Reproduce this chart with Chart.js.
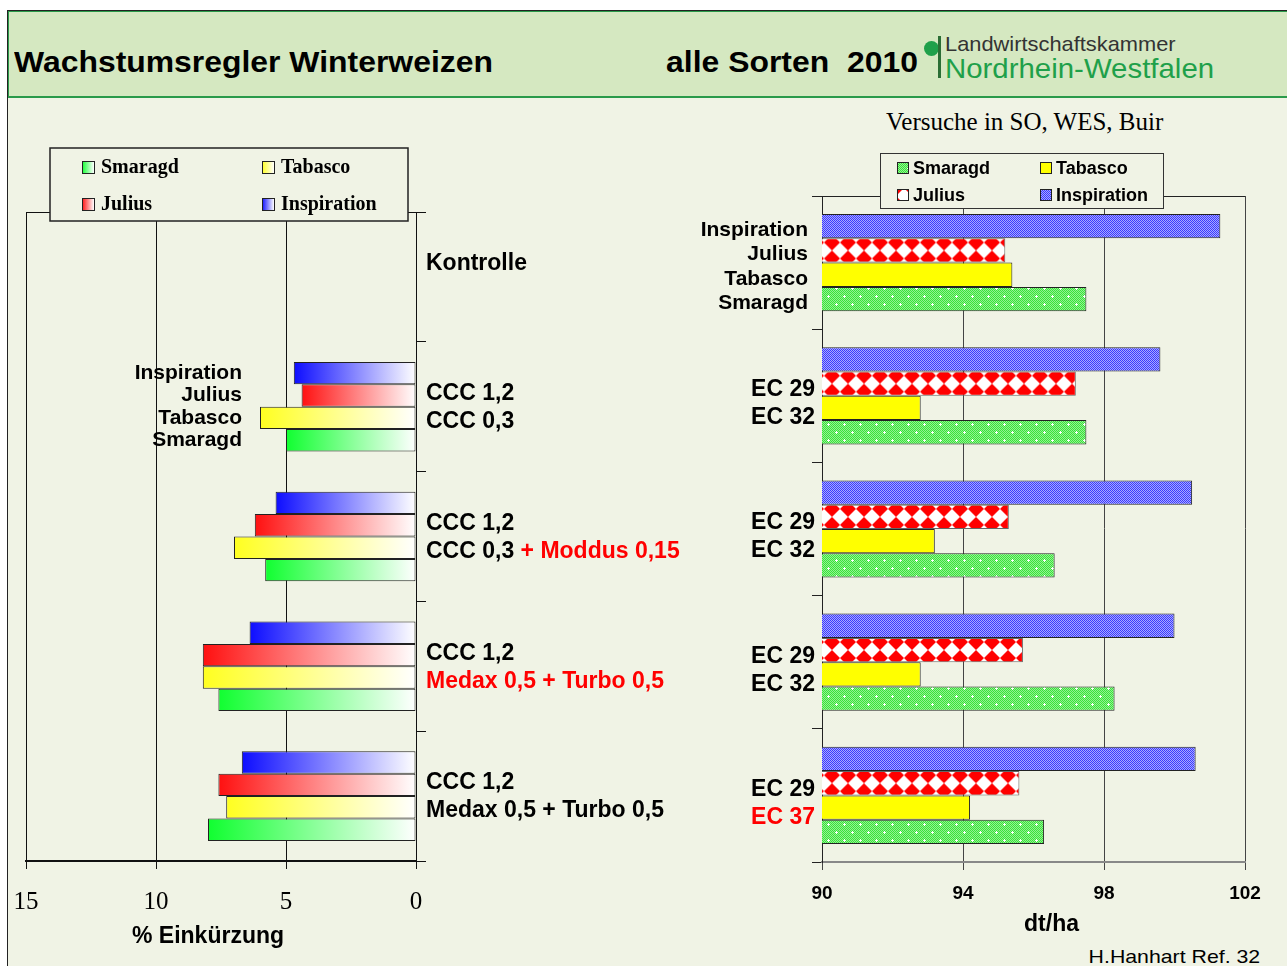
<!DOCTYPE html>
<html>
<head>
<title>Wachstumsregler Winterweizen</title>
<style>
  html, body { margin: 0; width: 1287px; height: 966px; overflow: hidden; background: #ffffff; }
  .abs { position: absolute; white-space: pre; line-height: 1; }
  #frame { position: absolute; left: 7px; top: 10px; width: 1280px; height: 956px; background: #f0f3e5; border-left: 1px solid #222; border-top: 1px solid #222; }
  #band { position: absolute; left: 8px; top: 11px; width: 1279px; height: 84px; background: #d5e8c1; border-left: 1px solid #2a9a4a; border-top: 1px solid #2a9a4a; border-bottom: 2px solid #2a9a4a; }
  .titel { font: bold 29px "Liberation Sans", Arial, sans-serif; color: #000; }
  #links-box { position: absolute; left: 0; top: 100px; }
  #rechts-box { position: absolute; left: 680px; top: 100px; }
</style>
</head>
<body>
<div id="frame"></div>
<div id="band"></div>
<div class="abs titel" style="left:14px; top:46px; transform:scaleX(1.10); transform-origin:left;">Wachstumsregler Winterweizen</div>
<div class="abs titel" style="right:369px; top:46px; transform:scaleX(1.10); transform-origin:right;">alle Sorten  2010</div>
<div class="abs" style="left:924px; top:41px; width:15px; height:15px; border-radius:8px; background:#1fa04a;"></div>
<div class="abs" style="left:938px; top:36px; width:3px; height:42px; background:#2b6e35;"></div>
<div class="abs" style="left:945px; top:32px; font:21px 'Liberation Sans', sans-serif; color:#333; transform:scaleX(1.04); transform-origin:left;">Landwirtschaftskammer</div>
<div class="abs" style="left:945px; top:53px; font:28px 'Liberation Sans', sans-serif; color:#1fa04a; transform:scaleX(1.05); transform-origin:left;">Nordrhein-Westfalen</div>
<div class="abs" style="left:886px; top:108px; font:25px 'Liberation Serif', serif; color:#000;">Versuche in SO, WES, Buir</div>
<div class="abs" style="right:27px; top:946px; font:19px 'Liberation Sans', sans-serif; color:#000; transform:scaleX(1.12); transform-origin:right;">H.Hanhart Ref. 32</div>

<div id="links-box"><canvas id="links" width="720" height="866"></canvas></div>
<div id="rechts-box"><canvas id="rechts" width="607" height="866"></canvas></div>

<script src="https://cdn.jsdelivr.net/npm/chart.js"></script>
<script>
// --- Daten ---
const sorten = ['Inspiration', 'Julius', 'Tabasco', 'Smaragd'];
const varianten = ['Kontrolle', 'CCC 1,2 / CCC 0,3', 'CCC 1,2 / CCC 0,3 + Moddus 0,15',
                   'CCC 1,2 / Medax 0,5 + Turbo 0,5', 'CCC 1,2 / Medax 0,5 + Turbo 0,5 (EC 37)'];
const variantenZeilen = [['Kontrolle', ''], ['CCC 1,2', 'CCC 0,3'], ['CCC 1,2', 'CCC 0,3 + Moddus 0,15'],
                         ['CCC 1,2', 'Medax 0,5 + Turbo 0,5'], ['CCC 1,2', 'Medax 0,5 + Turbo 0,5']];
const termine = [['', ''], ['EC 29', 'EC 32'], ['EC 29', 'EC 32'], ['EC 29', 'EC 32'], ['EC 29', 'EC 37']];

// % Einkuerzung
const einkuerzungInspiration = [0, 4.7, 5.4, 6.4, 6.7];
const einkuerzungJulius      = [0, 4.4, 6.2, 8.2, 7.6];
const einkuerzungTabasco     = [0, 6.0, 7.0, 8.2, 7.3];
const einkuerzungSmaragd     = [0, 5.0, 5.8, 7.6, 8.0];

// Ertrag dt/ha
const ertragInspiration = [101.3, 99.6, 100.5, 100.0, 100.6];
const ertragJulius      = [95.2, 97.2, 95.3, 95.7, 95.6];
const ertragTabasco     = [95.4, 92.8, 93.2, 92.8, 94.2];
const ertragSmaragd     = [97.5, 97.5, 96.6, 98.3, 96.3];

const einkuerzungTicks = [0, 5, 10, 15];
const ertragTicks = [90, 94, 98, 102];

// rot hervorgehobene Textteile: 'gruppe-zeile' -> Teiltext
const rotLinks = { '2-1': ' + Moddus 0,15', '3-1': 'Medax 0,5 + Turbo 0,5' };
const rotRechts = { '4-1': 'EC 37' };

const farben = ['#0d0dff', '#ff1010', '#ffff20', '#10ff30'];

// --- Hilfsfunktionen ---
function verlauf(farbe) {
    return (c) => {
        const chart = c.chart;
        if (!chart.chartArea || c.type !== 'data') return farbe;
        const sx = chart.scales.x;
        const x0 = sx.getPixelForValue(c.raw), x1 = sx.getPixelForValue(0);
        if (Math.abs(x1 - x0) < 1) return farbe;
        const g = chart.ctx.createLinearGradient(x0, 0, x1, 0);
        g.addColorStop(0, farbe);
        g.addColorStop(1, '#ffffff');
        return g;
    };
}

function kachel(w, h, zeichne) {
    const c = document.createElement('canvas');
    c.width = w; c.height = h;
    zeichne(c.getContext('2d'));
    return c;
}

const rctx = document.getElementById('rechts').getContext('2d');
const musterBlau = rctx.createPattern(kachel(2, 2, g => {
    g.fillStyle = '#3a3aff'; g.fillRect(0, 0, 2, 2);
    g.fillStyle = '#a8a8ff'; g.fillRect(1, 0, 1, 1); g.fillRect(0, 1, 1, 1);
}), 'repeat');
const kachelRot = kachel(16, 16, g => {
    g.fillStyle = '#ffffff'; g.fillRect(0, 0, 16, 16);
    g.fillStyle = '#ff0000';
    g.beginPath(); g.moveTo(8, 0); g.lineTo(16, 8); g.lineTo(8, 16); g.lineTo(0, 8); g.closePath(); g.fill();
});
const musterRot = rctx.createPattern(kachelRot, 'repeat');
const musterGruen = rctx.createPattern(kachel(16, 16, g => {
    for (let y = 0; y < 16; y++) for (let x = 0; x < 16; x++) {
        g.fillStyle = (x + y) % 2 ? '#92f292' : '#3ae23a';
        g.fillRect(x, y, 1, 1);
    }
    g.fillStyle = '#ffffff';
    [[4, 4], [12, 12]].forEach(([px, py]) => { g.fillRect(px - 1, py, 3, 1); g.fillRect(px, py - 1, 1, 3); });
}), 'repeat');
const muster = [musterBlau, musterRot, '#ffff00', musterGruen];
const musterRand = ['#222', '#666', '#222', '#222'];

// Rautenmuster an der Balkenmitte ausrichten (zwei angeschnittene Reihen je Balken)
function rautenFuerBalken(c) {
    const chart = c.chart;
    if (!chart.chartArea || c.type !== 'data') return musterRot;
    const sy = chart.scales.y;
    const band = (sy.bottom - sy.top) / chart.data.labels.length * 0.73;
    const n = chart.data.datasets.length;
    const mitte = sy.getPixelForValue(c.dataIndex) - band / 2 + band / n * (c.datasetIndex + 0.5);
    const p = chart.ctx.createPattern(kachelRot, 'repeat');
    p.setTransform(new DOMMatrix().translate(0, mitte));
    return p;
}

function zeichneZeile(ctx, text, rot, x, y, align) {
    let teile = [[text, '#000']];
    if (rot) {
        const i = text.indexOf(rot);
        teile = [[text.slice(0, i), '#000'], [rot, '#ff0000'], [text.slice(i + rot.length), '#000']];
    }
    const breite = teile.reduce((s, t) => s + ctx.measureText(t[0]).width, 0);
    let cx = align === 'right' ? x - breite : x;
    ctx.textAlign = 'left';
    teile.forEach(([t, f]) => { ctx.fillStyle = f; ctx.fillText(t, cx, y); cx += ctx.measureText(t).width; });
}

// --- linkes Diagramm: Einkuerzung ---
const linksPlugin = {
    id: 'linksBeschriftung',
    afterDraw(chart) {
        const ctx = chart.ctx, sy = chart.scales.y, sx = chart.scales.x;
        ctx.save();
        ctx.textBaseline = 'middle';
        ctx.font = 'bold 23px "Liberation Sans", Arial';
        variantenZeilen.forEach((zeilen, i) => {
            const cy = sy.getPixelForValue(i);
            zeilen.forEach((z, k) => zeichneZeile(ctx, z, rotLinks[i + '-' + k], 426, cy - 13 + 28 * k, 'left'));
        });
        ctx.font = 'bold 21px "Liberation Sans", Arial';
        ctx.fillStyle = '#000';
        ctx.textAlign = 'right';
        chart.data.datasets.forEach((ds, d) => {
            ctx.fillText(ds.label, 242, chart.getDatasetMeta(d).data[1].y);
        });
        // Achsentitel
        ctx.font = 'bold 23px "Liberation Sans", Arial';
        ctx.textAlign = 'center';
        ctx.fillText('% Einkürzung', (sx.left + sx.right) / 2 - 13, 837);
        // Legende
        ctx.fillStyle = '#f0f3e5';
        ctx.fillRect(50, 48, 358, 73);
        ctx.strokeStyle = '#222'; ctx.lineWidth = 1.5;
        ctx.strokeRect(50, 48, 358, 73);
        const pos = { Smaragd: [82, 67], Tabasco: [262, 67], Julius: [82, 104], Inspiration: [262, 104] };
        ctx.font = 'bold 20px "Liberation Serif", serif';
        ctx.textAlign = 'left';
        sorten.forEach((s, d) => {
            const [x, y] = pos[s];
            const g = ctx.createLinearGradient(x, 0, x + 12, 0);
            g.addColorStop(0, farben[d]); g.addColorStop(1, '#ffffff');
            ctx.fillStyle = g; ctx.fillRect(x, y - 6, 12, 12);
            ctx.lineWidth = 1; ctx.strokeStyle = '#222'; ctx.strokeRect(x + 0.5, y - 5.5, 12, 12);
            ctx.fillStyle = '#000'; ctx.fillText(s, x + 19, y + 1);
        });
        ctx.restore();
    }
};

new Chart(document.getElementById('links'), {
    type: 'bar',
    data: {
        labels: varianten,
        datasets: [einkuerzungInspiration, einkuerzungJulius, einkuerzungTabasco, einkuerzungSmaragd].map((werte, d) => ({
            label: sorten[d],
            data: werte,
            backgroundColor: verlauf(farben[d]),
            borderColor: '#222',
            borderWidth: 1,
            borderSkipped: false,
            categoryPercentage: 0.69,
            barPercentage: 1
        }))
    },
    options: {
        indexAxis: 'y',
        responsive: false,
        animation: false,
        layout: { padding: { left: 26, top: 112, right: 0, bottom: 0 } },
        plugins: { legend: { display: false }, tooltip: { enabled: false } },
        scales: {
            x: {
                type: 'linear', reverse: true, min: 0, max: 15,
                afterBuildTicks: s => { s.ticks = einkuerzungTicks.map(v => ({ value: v })); },
                ticks: { color: '#000', font: { family: '"Liberation Serif", serif', size: 25 }, padding: 18 },
                grid: { color: '#111', lineWidth: 1, tickLength: 8, tickColor: '#111' },
                border: { color: '#111', width: 2 },
                afterFit: s => { s.height = 105; }
            },
            y: {
                position: 'right',
                ticks: { display: false },
                grid: { color: c => c.index === 0 ? '#111' : 'rgba(0,0,0,0)', tickColor: '#111', tickLength: 10, lineWidth: 1 },
                border: { color: '#111', width: 1 },
                afterFit: s => { s.width = 304; }
            }
        }
    },
    plugins: [linksPlugin]
});

// --- rechtes Diagramm: Ertrag ---
const rechtsPlugin = {
    id: 'rechtsBeschriftung',
    afterDraw(chart) {
        const ctx = chart.ctx, sy = chart.scales.y, sx = chart.scales.x;
        ctx.save();
        ctx.textBaseline = 'middle';
        ctx.font = 'bold 23px "Liberation Sans", Arial';
        termine.forEach((zeilen, i) => {
            const cy = sy.getPixelForValue(i);
            zeilen.forEach((z, k) => { if (z) zeichneZeile(ctx, z, rotRechts[i + '-' + k], 135, cy - 6 + 28 * k, 'right'); });
        });
        ctx.font = 'bold 21px "Liberation Sans", Arial';
        ctx.fillStyle = '#000';
        ctx.textAlign = 'right';
        chart.data.datasets.forEach((ds, d) => {
            ctx.fillText(ds.label, 128, chart.getDatasetMeta(d).data[0].y + 4);
        });
        ctx.font = 'bold 23px "Liberation Sans", Arial';
        ctx.textAlign = 'center';
        ctx.fillText('dt/ha', (sx.left + sx.right) / 2 + 18, 825);
        // Legende
        ctx.fillStyle = '#f0f3e5';
        ctx.fillRect(200, 53, 283, 55);
        ctx.strokeStyle = '#333'; ctx.lineWidth = 1;
        ctx.strokeRect(200.5, 53.5, 283, 55);
        const pos = { Smaragd: [217, 68], Tabasco: [360, 68], Julius: [217, 95], Inspiration: [360, 95] };
        ctx.font = 'bold 18px "Liberation Sans", Arial';
        ctx.textAlign = 'left';
        sorten.forEach((s, d) => {
            const [x, y] = pos[s];
            ctx.fillStyle = muster[d]; ctx.fillRect(x, y - 6, 11, 11);
            ctx.strokeStyle = '#222'; ctx.strokeRect(x + 0.5, y - 5.5, 11, 11);
            ctx.fillStyle = '#000'; ctx.fillText(s, x + 16, y + 1);
        });
        ctx.restore();
    }
};

new Chart(document.getElementById('rechts'), {
    type: 'bar',
    data: {
        labels: varianten,
        datasets: [ertragInspiration, ertragJulius, ertragTabasco, ertragSmaragd].map((werte, d) => ({
            label: sorten[d],
            data: werte,
            backgroundColor: d === 1 ? rautenFuerBalken : muster[d],
            borderColor: musterRand[d],
            borderWidth: 1,
            borderSkipped: false,
            categoryPercentage: 0.73,
            barPercentage: 1
        }))
    },
    options: {
        indexAxis: 'y',
        responsive: false,
        animation: false,
        layout: { padding: { left: 0, top: 96, right: 42, bottom: 0 } },
        plugins: { legend: { display: false }, tooltip: { enabled: false } },
        scales: {
            x: {
                type: 'linear', min: 90, max: 102,
                afterBuildTicks: s => { s.ticks = ertragTicks.map(v => ({ value: v })); },
                ticks: { color: '#000', font: { family: '"Liberation Sans", Arial', size: 19, weight: 'bold' }, padding: 12 },
                grid: { color: '#444', lineWidth: 1, tickLength: 8, tickColor: '#444' },
                border: { color: '#888', width: 2 },
                afterFit: s => { s.height = 104; }
            },
            y: {
                position: 'left',
                ticks: { display: false },
                grid: { color: c => c.index === 0 ? '#222' : 'rgba(0,0,0,0)', tickColor: '#222', tickLength: 10, lineWidth: 1 },
                border: { color: '#222', width: 1 },
                afterFit: s => { s.width = 142; }
            }
        }
    },
    plugins: [rechtsPlugin]
});
</script>
</body>
</html>
